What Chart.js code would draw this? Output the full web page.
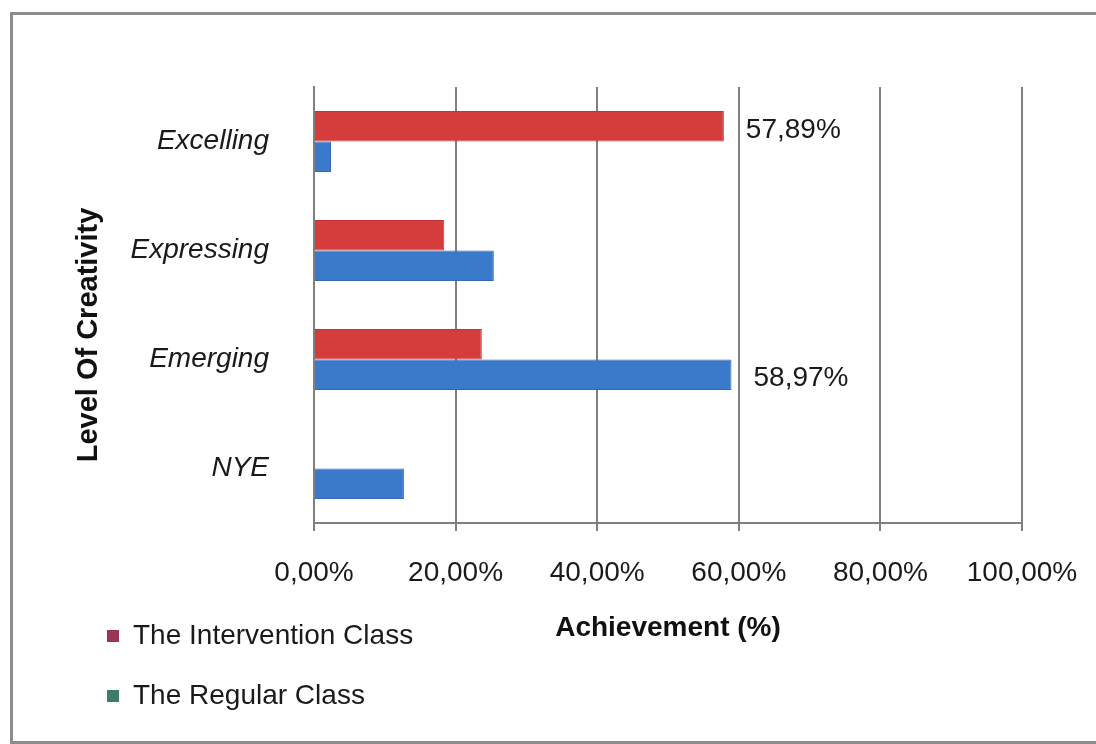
<!DOCTYPE html>
<html>
<head>
<meta charset="utf-8">
<title>Level Of Creativity</title>
<script src="https://cdn.jsdelivr.net/npm/chart.js@4.4.0/dist/chart.umd.min.js"></script>
<style>
    html, body { margin: 0; padding: 0; background: #fff; }
    canvas { display: block; }
</style>
</head>
<body>
<canvas id="creativityChart" width="1096" height="744"></canvas>
<script>
// Chart data
const levels = ["Excelling", "Expressing", "Emerging", "NYE"];
const interventionClass = [57.89, 18.4, 23.7, 0];
const regularClass = [2.4, 25.4, 58.97, 12.7];
const seriesNames = ["The Intervention Class", "The Regular Class"];
const xTicks = [0, 20, 40, 60, 80, 100];
// which values get a printed label (index per series)
const labelledIntervention = [0];
const labelledRegular = [2];

const FONT = "'Liberation Sans', Arial, sans-serif";

function pct(v) {
    return v.toFixed(2).replace(".", ",") + "%";
}

// Frame, y title, legend and value labels, like the exported Excel picture
const decorations = {
    id: "decorations",
    beforeDraw(chart) {
        const ctx = chart.ctx;
        ctx.save();
        ctx.fillStyle = "#fff";
        ctx.fillRect(0, 0, chart.width, chart.height);
        ctx.strokeStyle = "#8c8c8c";
        ctx.lineWidth = 3;
        ctx.strokeRect(11.5, 13.5, chart.width + 10, chart.height - 15);
        ctx.restore();
    },
    afterDatasetsDraw(chart) {
        const ctx = chart.ctx;
        ctx.save();
        ctx.font = "28px " + FONT;
        ctx.fillStyle = "#1a1a1a";
        ctx.textBaseline = "middle";
        ctx.textAlign = "left";
        [labelledIntervention, labelledRegular].forEach((idxs, di) => {
            const meta = chart.getDatasetMeta(di);
            idxs.forEach((i) => {
                const bar = meta.data[i];
                const v = chart.data.datasets[di].data[i];
                ctx.fillText(pct(v), bar.x + 22, bar.y + 4);
            });
        });

        // legend, stacked at the bottom left
        const legendColors = ["#9b3553", "#3f7b69"];
        seriesNames.forEach((name, i) => {
            const y = 636 + i * 60;
            ctx.fillStyle = legendColors[i];
            ctx.fillRect(107, y - 6, 12, 12);
            ctx.fillStyle = "#1a1a1a";
            ctx.fillText(name, 133, y);
        });

        // y axis title (sits lower than the plot centre in the original)
        ctx.translate(89, 335);
        ctx.rotate(-Math.PI / 2);
        ctx.textAlign = "center";
        ctx.font = "bold 29px " + FONT;
        ctx.fillStyle = "#111";
        ctx.fillText("Level Of Creativity", 0, 0);
        ctx.restore();
    },
};

new Chart(document.getElementById("creativityChart"), {
    type: "bar",
    data: {
        labels: levels,
        datasets: [
            {
                label: seriesNames[0],
                data: interventionClass,
                backgroundColor: "#d43d3c",
                borderColor: "#c0353a",
                borderWidth: 1,
                categoryPercentage: 0.56,
                barPercentage: 1,
            },
            {
                label: seriesNames[1],
                data: regularClass,
                backgroundColor: "#3a7acb",
                borderColor: "#3568b8",
                borderWidth: 1,
                categoryPercentage: 0.56,
                barPercentage: 1,
            },
        ],
    },
    plugins: [decorations],
    options: {
        indexAxis: "y",
        responsive: false,
        animation: false,
        layout: {
            padding: { left: 60, top: 87, right: 74, bottom: 0 },
        },
        plugins: {
            legend: { display: false },
            tooltip: { enabled: false },
        },
        scales: {
            x: {
                min: 0,
                max: 100,
                afterBuildTicks(scale) {
                    scale.ticks = xTicks.map((v) => ({ value: v }));
                },
                afterFit(scale) {
                    scale.height = 221;
                    scale.paddingLeft = 0;
                    scale.paddingRight = 0;
                },
                grid: {
                    color: "#7f7f7f",
                    lineWidth: 2,
                    drawTicks: true,
                    tickLength: 8,
                },
                border: { color: "#7f7f7f", width: 2 },
                ticks: {
                    padding: 25,
                    color: "#1a1a1a",
                    font: { family: FONT, size: 28 },
                    maxRotation: 0,
                    callback: (v) => pct(v),
                },
                title: {
                    display: true,
                    text: "Achievement (%)",
                    color: "#111",
                    font: { family: FONT, size: 28, weight: "bold" },
                    padding: { top: 0, bottom: 99 },
                },
            },
            y: {
                afterFit(scale) {
                    scale.width = 254;
                },
                grid: { display: false },
                border: { display: true, color: "#7f7f7f", width: 2 },
                ticks: {
                    padding: 37,
                    color: "#1a1a1a",
                    font: { family: FONT, size: 28, style: "italic" },
                },
                title: { display: false },
            },
        },
    },
});
</script>
</body>
</html>
